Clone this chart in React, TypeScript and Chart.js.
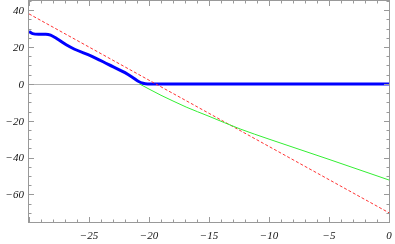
import React, { useEffect, useRef } from "react";
import { Chart, registerables } from "chart.js";

Chart.register(...registerables);

const blueX = [-30, -29.7, -29.2, -28.6, -28.2, -27.6, -26.9, -26.2, -24.8, -23.4, -22, -21.3, -20.9, -20.5, -20.1, -15, -10, -5, 0];
const blueY = [28.4, 27.3, 27.0, 27.0, 26.5, 24.2, 21.2, 18.8, 15.1, 10.6, 6.1, 3.2, 1.4, 0.3, 0, 0, 0, 0, 0];

const greenX = [-20.8, -20, -19, -18, -16.9, -15, -12.4, -10, -7.5, -5, -2.5, 0];
const greenY = [0, -2.8, -6.2, -9.3, -12.6, -17.6, -24.5, -30, -35.5, -41, -46.6, -52.2];

const redX = [-30, 0];
const redY = [38, -70];

const xTicks = [-25, -20, -15, -10, -5, 0];
const yTicks = [-60, -40, -20, 0, 20, 40];

const toPts = (xs: number[], ys: number[]) => xs.map((x, i) => ({ x, y: ys[i] }));

const fmt = (v: number) => (v < 0 ? "\u2212" + Math.abs(v) : String(v));

const framePlugin = {
  id: "frameTicks",
  beforeDatasetsDraw(chart: any) {
    const { ctx, chartArea, scales } = chart;
    const ys = scales.y;
    ctx.save();
    const y0 = ys.getPixelForValue(0);
    ctx.strokeStyle = "#b4b4b4";
    ctx.lineWidth = 1;
    ctx.beginPath();
    ctx.moveTo(chartArea.left, Math.round(y0) + 0.5);
    ctx.lineTo(chartArea.right, Math.round(y0) + 0.5);
    ctx.stroke();
    ctx.restore();
  },
  afterDatasetsDraw(chart: any) {
    const { ctx, chartArea, scales } = chart;
    const xs = scales.x;
    const ys = scales.y;
    const L = chartArea.left, R = chartArea.right, T = chartArea.top, B = chartArea.bottom;
    ctx.save();
    ctx.strokeStyle = "#999999";
    ctx.lineWidth = 1;
    ctx.strokeRect(Math.round(L) - 0.5, Math.round(T) - 0.5, Math.round(R - L) + 1, Math.round(B - T) + 1);
    ctx.beginPath();
    for (let v = -30; v <= 0; v += 1) {
      const p = Math.round(xs.getPixelForValue(v)) + 0.5;
      const len = v % 5 === 0 ? 5 : 2.5;
      ctx.moveTo(p, B);
      ctx.lineTo(p, B - len);
      ctx.moveTo(p, T);
      ctx.lineTo(p, T + len);
    }
    for (let v = -75; v <= 45; v += 5) {
      const p = Math.round(ys.getPixelForValue(v)) + 0.5;
      const len = v % 20 === 0 ? 5 : 2.5;
      ctx.moveTo(L, p);
      ctx.lineTo(L + len, p);
      ctx.moveTo(R, p);
      ctx.lineTo(R - len, p);
    }
    ctx.stroke();
    ctx.fillStyle = "#111";
    ctx.font = "italic 11px 'Liberation Serif'";
    ctx.textAlign = "center";
    ctx.textBaseline = "middle";
    xTicks.forEach((v) => {
      ctx.fillText(fmt(v), xs.getPixelForValue(v), B + 14);
    });
    ctx.textAlign = "right";
    yTicks.forEach((v) => {
      ctx.fillText(fmt(v), L - 5, ys.getPixelForValue(v) + 1);
    });
    ctx.restore();
  },
};

export default function App() {
  const ref = useRef<HTMLCanvasElement>(null);
  useEffect(() => {
    document.body.style.margin = "0";
    const chart = new Chart(ref.current!, {
      type: "scatter",
      data: {
        datasets: [
          {
            data: toPts(greenX, greenY),
            showLine: true,
            borderColor: "#33ee33",
            borderWidth: 1,
            pointRadius: 0,
            cubicInterpolationMode: "monotone",
          },
          {
            data: toPts(redX, redY),
            showLine: true,
            borderColor: "#ff3333",
            borderWidth: 1,
            borderDash: [3, 2],
            pointRadius: 0,
          },
          {
            data: toPts(blueX, blueY),
            showLine: true,
            borderColor: "#0000ff",
            borderWidth: 3,
            pointRadius: 0,
            cubicInterpolationMode: "monotone",
          },
        ],
      },
      options: {
        animation: false,
        responsive: false,
        layout: { padding: { left: 29, right: 6, top: 1, bottom: 22 } },
        plugins: { legend: { display: false }, tooltip: { enabled: false } },
        scales: {
          x: { type: "linear", min: -30, max: 0, display: false },
          y: { type: "linear", min: -75, max: 45, display: false },
        },
      },
      plugins: [framePlugin],
    } as any);
    return () => chart.destroy();
  }, []);
  return (
    <div style={{ width: 395, height: 244 }}>
      <canvas ref={ref} width={395} height={244} style={{ display: "block" }} />
    </div>
  );
}
